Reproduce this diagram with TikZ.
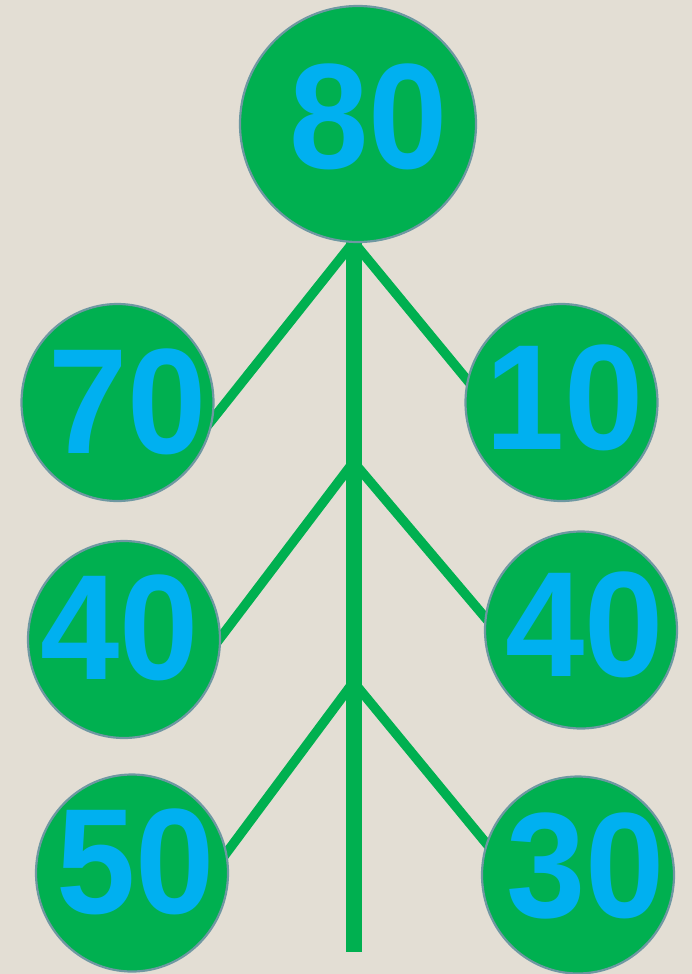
\documentclass[tikz,border=0pt]{standalone}
\usepackage{fontspec}
\setmainfont{Liberation Sans}
\usetikzlibrary{shapes.geometric}
\definecolor{bg}{HTML}{E3DED4}
\definecolor{grn}{HTML}{00B050}
\definecolor{blu}{HTML}{00B0F0}
\definecolor{rim}{HTML}{6E98A2}
\newcommand{\numtxt}[1]{\scalebox{0.95}[1]{#1}}
\tikzset{
  ball/.style={ellipse, fill=grn, draw=rim, line width=2.2pt, inner sep=0pt,
               minimum width=192pt, minimum height=197pt},
  bigball/.style={ball, minimum width=236pt, minimum height=236pt},
  num/.style={text=blu, inner sep=0pt, font=\fontsize{150}{150}\selectfont\bfseries},
  stemline/.style={draw=grn, line width=16pt},
  twig/.style={draw=grn, line width=9.5pt}
}
\begin{document}
\begin{tikzpicture}[x=1pt,y=-1pt]
\fill[bg] (0,0) rectangle (692,974);
\useasboundingbox (0,0) rectangle (692,974);
% junction and end coordinates
\coordinate (top) at (353.5,236);
\coordinate (bot) at (353.5,952);
\coordinate (j1) at (353.5,242);
\coordinate (j2) at (353.5,462);
\coordinate (j3) at (353.5,682);
\coordinate (e1l) at (200,435);
\coordinate (e1r) at (482,398);
\coordinate (e2l) at (205,658);
\coordinate (e2r) at (500,635);
\coordinate (e3l) at (210,875);
\coordinate (e3r) at (500,860);
% branches
\draw[twig] (j1) -- (e1l);
\draw[twig] (j1) -- (e1r);
\draw[twig] (j2) -- (e2l);
\draw[twig] (j2) -- (e2r);
\draw[twig] (j3) -- (e3l);
\draw[twig] (j3) -- (e3r);
\draw[stemline] (top) -- (bot);
% circles
\node[bigball] (n80) at (358,124) {};
\node[ball] (n70) at (117.5,402.5) {};
\node[ball] (n10) at (561.5,402.5) {};
\node[ball] (n40a) at (124,639.5) {};
\node[ball] (n40b) at (581,630) {};
\node[ball] (n50) at (132,873) {};
\node[ball] (n30) at (578,875) {};
% numbers
\node[num] (t80) at (368.5,117) {\numtxt{80}};
\node[num] (t70) at (128,402) {\numtxt{70}};
\node[num] (t10) at (565,397.5) {\numtxt{10}};
\node[num] (t40a) at (120,628) {\numtxt{40}};
\node[num] (t40b) at (585,625) {\numtxt{40}};
\node[num] (t50) at (136,862) {\numtxt{50}};
\node[num] (t30) at (586,866) {\numtxt{30}};
\end{tikzpicture}
\end{document}
